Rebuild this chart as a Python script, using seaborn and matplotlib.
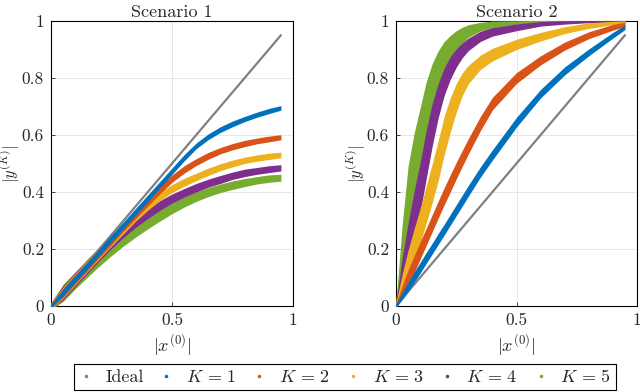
import numpy as np
import pandas as pd
import matplotlib
matplotlib.use("Agg")
import matplotlib.pyplot as plt
from matplotlib.lines import Line2D
import seaborn as sns

# legend / colours (MATLAB default order)
labels = ["Ideal", r"$K\,=\,1$", r"$K\,=\,2$", r"$K\,=\,3$", r"$K\,=\,4$", r"$K\,=\,5$"]
colors = ["#808080", "#0072BD", "#D95319", "#EDB120", "#7E2F8E", "#77AC30"]

ideal_x = [0, 0.95]
ideal_y = [0, 0.95]

# Scenario 1: band centre and half width
x1 = [0, 0.05, 0.1, 0.15, 0.2, 0.25, 0.3, 0.35, 0.4, 0.45,
      0.5, 0.55, 0.6, 0.65, 0.7, 0.75, 0.8, 0.85, 0.9, 0.95]
s1_k1 = [0, 0.047, 0.095, 0.142, 0.19, 0.237, 0.284, 0.331, 0.378, 0.426,
         0.473, 0.52, 0.562, 0.594, 0.619, 0.639, 0.656, 0.671, 0.684, 0.695]
s1_k2 = [0, 0.047, 0.094, 0.14, 0.186, 0.232, 0.278, 0.322, 0.365, 0.408,
         0.447, 0.479, 0.505, 0.527, 0.545, 0.559, 0.57, 0.579, 0.586, 0.592]
s1_k3 = [0, 0.047, 0.094, 0.14, 0.185, 0.229, 0.272, 0.315, 0.352, 0.385,
         0.412, 0.434, 0.453, 0.471, 0.487, 0.5, 0.511, 0.519, 0.525, 0.53]
s1_k4 = [0, 0.047, 0.093, 0.139, 0.183, 0.225, 0.262, 0.295, 0.325, 0.353,
         0.377, 0.397, 0.415, 0.431, 0.444, 0.457, 0.467, 0.474, 0.48, 0.485]
s1_k5 = [0, 0.046, 0.09, 0.131, 0.17, 0.205, 0.236, 0.265, 0.292, 0.318,
         0.343, 0.365, 0.384, 0.4, 0.413, 0.424, 0.433, 0.441, 0.447, 0.45]
s1_w1 = [0.006, 0.012, 0.012, 0.012, 0.012, 0.012, 0.012, 0.012, 0.012, 0.011,
         0.011, 0.011, 0.01, 0.01, 0.01, 0.01, 0.009, 0.009, 0.009, 0.008]
s1_w2 = [0.008, 0.016, 0.016, 0.016, 0.016, 0.016, 0.015, 0.015, 0.014, 0.014,
         0.013, 0.013, 0.012, 0.012, 0.011, 0.011, 0.011, 0.01, 0.01, 0.009]
s1_w3 = [0.01, 0.02, 0.02, 0.02, 0.02, 0.019, 0.018, 0.017, 0.016, 0.015,
         0.014, 0.014, 0.013, 0.013, 0.012, 0.012, 0.011, 0.011, 0.011, 0.01]
s1_w4 = [0.01, 0.025, 0.025, 0.025, 0.024, 0.023, 0.021, 0.019, 0.018, 0.017,
         0.016, 0.015, 0.015, 0.014, 0.014, 0.013, 0.013, 0.012, 0.012, 0.011]
s1_w5 = [0.012, 0.03, 0.03, 0.03, 0.03, 0.028, 0.025, 0.023, 0.021, 0.02,
         0.019, 0.018, 0.017, 0.016, 0.015, 0.015, 0.014, 0.013, 0.013, 0.012]

# Scenario 2
x2 = [0, 0.025, 0.05, 0.075, 0.1, 0.125, 0.15, 0.175, 0.2, 0.225, 0.25, 0.275,
      0.3, 0.35, 0.4, 0.5, 0.6, 0.7, 0.8, 0.9, 0.95]
s2_k1 = [0, 0.034, 0.067, 0.101, 0.134, 0.168, 0.201, 0.235, 0.268, 0.302, 0.336, 0.37,
         0.404, 0.47, 0.53, 0.645, 0.745, 0.825, 0.89, 0.95, 0.978]
s2_k2 = [0, 0.049, 0.098, 0.146, 0.194, 0.242, 0.29, 0.338, 0.385, 0.43, 0.475, 0.518,
         0.56, 0.64, 0.71, 0.8, 0.862, 0.912, 0.95, 0.978, 0.988]
s2_k3 = [0, 0.07, 0.14, 0.21, 0.28, 0.355, 0.43, 0.51, 0.598, 0.67, 0.73, 0.778,
         0.812, 0.855, 0.882, 0.918, 0.945, 0.968, 0.984, 0.993, 0.996]
s2_k4 = [0, 0.105, 0.21, 0.315, 0.415, 0.53, 0.635, 0.72, 0.787, 0.835, 0.87, 0.897,
         0.918, 0.946, 0.962, 0.978, 0.99, 0.995, 0.998, 0.999, 1.0]
s2_k5 = [0, 0.18, 0.35, 0.47, 0.57, 0.67, 0.75, 0.815, 0.868, 0.903, 0.93, 0.95,
         0.965, 0.98, 0.988, 0.995, 0.998, 0.999, 1.0, 1.0, 1.0]
s2_w1 = [0.006, 0.012, 0.016, 0.018, 0.019, 0.019, 0.019, 0.019, 0.019, 0.019, 0.019, 0.019,
         0.019, 0.018, 0.018, 0.017, 0.015, 0.014, 0.012, 0.01, 0.008]
s2_w2 = [0.008, 0.02, 0.028, 0.03, 0.03, 0.03, 0.03, 0.03, 0.03, 0.03, 0.029, 0.028,
         0.027, 0.025, 0.022, 0.019, 0.016, 0.014, 0.012, 0.01, 0.008]
s2_w3 = [0.01, 0.04, 0.055, 0.06, 0.062, 0.065, 0.068, 0.07, 0.068, 0.06, 0.05, 0.04,
         0.032, 0.025, 0.022, 0.018, 0.015, 0.012, 0.01, 0.006, 0.004]
s2_w4 = [0.01, 0.06, 0.08, 0.088, 0.088, 0.085, 0.075, 0.06, 0.048, 0.04, 0.032, 0.026,
         0.022, 0.018, 0.015, 0.012, 0.008, 0.006, 0.004, 0.003, 0.003]
s2_w5 = [0.01, 0.1, 0.14, 0.135, 0.125, 0.115, 0.1, 0.08, 0.06, 0.046, 0.036, 0.028,
         0.022, 0.015, 0.012, 0.006, 0.004, 0.003, 0.002, 0.002, 0.002]

scenarios = [
    ("Scenario 1", x1, [s1_k1, s1_k2, s1_k3, s1_k4, s1_k5], [s1_w1, s1_w2, s1_w3, s1_w4, s1_w5]),
    ("Scenario 2", x2, [s2_k1, s2_k2, s2_k3, s2_k4, s2_k5], [s2_w1, s2_w2, s2_w3, s2_w4, s2_w5]),
]

sns.set_style("ticks")
plt.rcParams["font.family"] = "serif"
plt.rcParams["font.serif"] = ["cmr10", "DejaVu Serif"]
plt.rcParams["mathtext.fontset"] = "cm"
plt.rcParams["axes.formatter.use_mathtext"] = True
plt.rcParams["axes.unicode_minus"] = False


def band(ax, x, mid, half, color, z):
    # two rows per x (lower / upper edge); seaborn shades min..max
    x = np.asarray(x)
    mid = np.asarray(mid)
    half = np.asarray(half)
    df = pd.DataFrame({"x": np.concatenate([x, x]),
                       "y": np.concatenate([mid - half, mid + half])})
    sns.lineplot(data=df, x="x", y="y", ax=ax, color=color, estimator="mean",
                 errorbar=("pi", 100), err_kws={"alpha": 1, "linewidth": 0, "zorder": z},
                 linewidth=0.6, zorder=z, legend=False)


fig = plt.figure(figsize=(6.4, 3.92), dpi=100)
axes = [fig.add_axes([51 / 640, 86 / 392, 242 / 640, 285 / 392]),
        fig.add_axes([396 / 640, 86 / 392, 241 / 640, 285 / 392])]

for ax, (title, xs, curves, widths) in zip(axes, scenarios):
    sns.lineplot(x=ideal_x, y=ideal_y, ax=ax, color=colors[0], linewidth=1.6, zorder=2)
    # K=5 drawn first so K=1 ends up on top
    for k in range(4, -1, -1):
        band(ax, xs, curves[k], widths[k], colors[k + 1], 3 + (4 - k))
    ax.set_xlim(0, 1)
    ax.set_ylim(0, 1)
    ax.set_xticks([0, 0.5, 1])
    ax.set_xticklabels(["0", "0.5", "1"])
    ax.set_yticks([0, 0.2, 0.4, 0.6, 0.8, 1])
    ax.set_yticklabels(["0", "0.2", "0.4", "0.6", "0.8", "1"])
    ax.grid(True, color="#e3e3e3", linewidth=0.6)
    ax.set_axisbelow(True)
    for s in ax.spines.values():
        s.set_visible(True)
        s.set_color("black")
        s.set_linewidth(0.8)
    ax.tick_params(direction="in", length=3, width=0.6, labelsize=12.5, pad=5)
    ax.set_title(title, fontsize=13, pad=3)
    ax.set_xlabel(r"$|x^{(0)}|$", fontsize=13, labelpad=3)
    ax.set_ylabel(r"$|y^{(K)}|$", fontsize=12)
    ax.yaxis.set_label_coords(-0.118, 0.5)

handles = [Line2D([], [], marker=".", linestyle="none", color=c, markersize=3) for c in colors]
leg = fig.legend(handles, labels, loc="center", bbox_to_anchor=(345 / 640, 15 / 392), ncol=6,
                 frameon=True, fancybox=False, edgecolor="black", framealpha=1,
                 fontsize=13, handlelength=0.8, handletextpad=0.7, columnspacing=0.85,
                 borderpad=0.25, borderaxespad=0)
leg.get_frame().set_linewidth(0.8)

fig.savefig("out.png", dpi=100)
